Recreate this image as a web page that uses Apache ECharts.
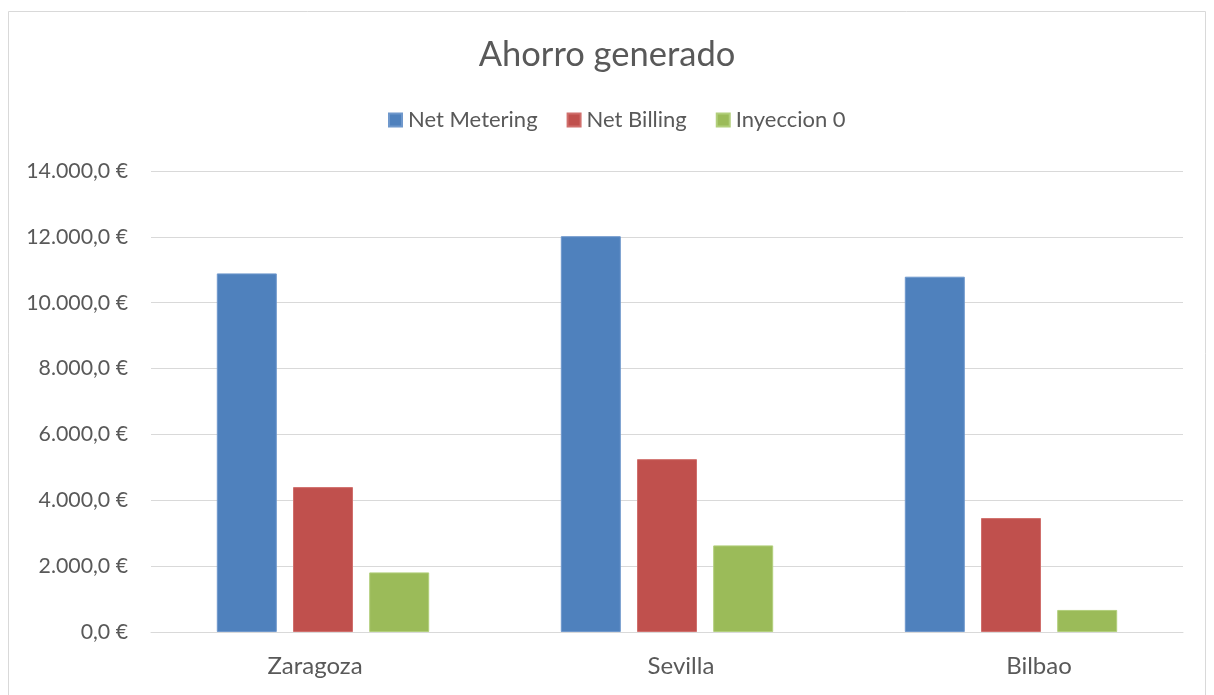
<!DOCTYPE html>
<html>
<head>
<meta charset="utf-8">
<script src="https://cdn.jsdelivr.net/npm/echarts@6/dist/echarts.min.js"></script>
<style>
html,body{margin:0;padding:0;background:#fff;}
#c{width:1214px;height:695px;}
</style>
</head>
<body>
<div id="c"></div>
<script>
var categories = ['Zaragoza', 'Sevilla', 'Bilbao'];
var netMetering = [10890, 12020, 10790];
var netBilling = [4400, 5250, 3460];
var inyeccion0 = [1810, 2630, 670];
var seriesNames = ['Net Metering', 'Net Billing', 'Inyeccion 0'];
var yTicks = [0, 2000, 4000, 6000, 8000, 10000, 12000, 14000];

function fmtEuro(v) {
  var parts = v.toFixed(1).split('.');
  var intPart = parts[0].replace(/\B(?=(\d{3})+(?!\d))/g, '.');
  return intPart + ',' + parts[1] + ' €';
}

var FONT = 'Lato, "Open Sans", sans-serif';
var TXT = '#595959';
var chart = echarts.init(document.getElementById('c'), null, {renderer: 'canvas'});
var colors = ['#4F81BD', '#C0504D', '#9BBB59'];
var borders = ['#6f98cc', '#d06f6c', '#b2cf7c'];
var dataSets = [netMetering, netBilling, inyeccion0];
// small horizontal label shifts seen in the reference
var labelPads = [[0, 16, 0, 0], [0, 0, 0, 28], [0, 0, 0, 56]];

chart.setOption({
  animation: false,
  backgroundColor: '#fff',
  graphic: [{
    type: 'rect',
    shape: {x: 8.5, y: 11.5, width: 1197, height: 690},
    style: {fill: 'none', stroke: '#d9d9d9', lineWidth: 1},
    silent: true, z: -1
  }],
  title: {
    text: 'Ahorro generado',
    left: 'center',
    top: 32,
    textStyle: {fontFamily: FONT, fontSize: 34.5, fontWeight: 'normal', color: TXT}
  },
  legend: {
    top: 109,
    left: 388,
    padding: 0,
    itemWidth: 13,
    itemHeight: 13,
    itemGap: 29,
    icon: 'rect',
    textStyle: {fontFamily: FONT, fontSize: 22, color: TXT, padding: [0, 0, 0, 1]},
    data: seriesNames
  },
  grid: {left: 151, right: 31, top: 171, bottom: 63, containLabel: false},
  xAxis: {
    type: 'category',
    data: categories.map(function (c, i) {
      return {value: c, textStyle: {padding: labelPads[i]}};
    }),
    axisLine: {show: true, lineStyle: {color: '#d9d9d9', width: 1}},
    axisTick: {show: false},
    axisLabel: {fontFamily: FONT, fontSize: 24, color: TXT, margin: 22}
  },
  yAxis: {
    type: 'value',
    min: yTicks[0],
    max: yTicks[yTicks.length - 1],
    interval: 2000,
    axisLine: {show: false},
    axisTick: {show: false},
    splitLine: {lineStyle: {color: '#d9d9d9', width: 1}},
    axisLabel: {fontFamily: FONT, fontSize: 21.3, color: TXT, margin: 23, formatter: fmtEuro}
  },
  series: seriesNames.map(function (n, i) {
    return {
      name: n,
      type: 'bar',
      data: dataSets[i],
      barWidth: 60,
      barGap: '27%',
      itemStyle: {color: colors[i], borderColor: borders[i], borderWidth: 1}
    };
  })
});
</script>
</body>
</html>
